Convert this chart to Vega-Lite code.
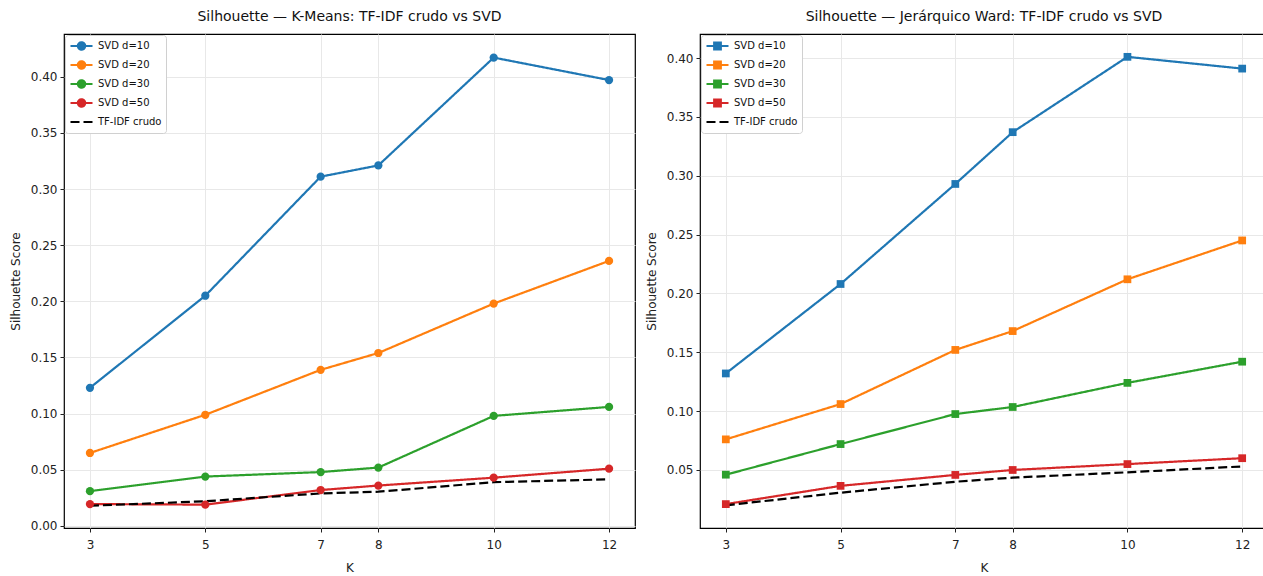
{
  "$schema": "https://vega.github.io/schema/vega-lite/v6.json",
  "background": "white",
  "padding": {"left": 8, "top": 9, "right": 0, "bottom": 0},
  "config": {
    "font": "DejaVu Sans",
    "view": {"stroke": "black", "strokeWidth": 1.2},
    "title": {"fontSize": 14, "fontWeight": "normal", "color": "#111", "offset": 10, "frame": "group", "anchor": "middle"},
    "axis": {
      "domain": false,
      "grid": true,
      "gridColor": "#e8e8e8",
      "gridWidth": 1,
      "tickColor": "#222",
      "tickSize": 4,
      "labelFontSize": 12,
      "labelColor": "#222",
      "titleFontSize": 12,
      "titleFontWeight": "normal",
      "titleColor": "#222",
      "labelPadding": 3
    },
    "legend": {
      "orient": "top-left",
      "offset": 1,
      "title": null,
      "labelFontSize": 10,
      "labelColor": "#111",
      "strokeColor": "#d0d0d0",
      "fillColor": "white",
      "cornerRadius": 3,
      "padding": 4,
      "rowPadding": 5,
      "clipHeight": 14,
      "symbolSize": 484,
      "symbolStrokeWidth": 2.2,
      "labelOffset": 4
    }
  },
  "data": {
    "values": [
      {"metodo": "kmeans", "serie": "SVD d=10", "K": 3, "score": 0.123},
      {"metodo": "kmeans", "serie": "SVD d=10", "K": 5, "score": 0.205},
      {"metodo": "kmeans", "serie": "SVD d=10", "K": 7, "score": 0.311},
      {"metodo": "kmeans", "serie": "SVD d=10", "K": 8, "score": 0.321},
      {"metodo": "kmeans", "serie": "SVD d=10", "K": 10, "score": 0.417},
      {"metodo": "kmeans", "serie": "SVD d=10", "K": 12, "score": 0.397},
      {"metodo": "kmeans", "serie": "SVD d=20", "K": 3, "score": 0.065},
      {"metodo": "kmeans", "serie": "SVD d=20", "K": 5, "score": 0.099},
      {"metodo": "kmeans", "serie": "SVD d=20", "K": 7, "score": 0.139},
      {"metodo": "kmeans", "serie": "SVD d=20", "K": 8, "score": 0.154},
      {"metodo": "kmeans", "serie": "SVD d=20", "K": 10, "score": 0.198},
      {"metodo": "kmeans", "serie": "SVD d=20", "K": 12, "score": 0.236},
      {"metodo": "kmeans", "serie": "SVD d=30", "K": 3, "score": 0.031},
      {"metodo": "kmeans", "serie": "SVD d=30", "K": 5, "score": 0.044},
      {"metodo": "kmeans", "serie": "SVD d=30", "K": 7, "score": 0.048},
      {"metodo": "kmeans", "serie": "SVD d=30", "K": 8, "score": 0.052},
      {"metodo": "kmeans", "serie": "SVD d=30", "K": 10, "score": 0.098},
      {"metodo": "kmeans", "serie": "SVD d=30", "K": 12, "score": 0.106},
      {"metodo": "kmeans", "serie": "SVD d=50", "K": 3, "score": 0.0195},
      {"metodo": "kmeans", "serie": "SVD d=50", "K": 5, "score": 0.019},
      {"metodo": "kmeans", "serie": "SVD d=50", "K": 7, "score": 0.032},
      {"metodo": "kmeans", "serie": "SVD d=50", "K": 8, "score": 0.036},
      {"metodo": "kmeans", "serie": "SVD d=50", "K": 10, "score": 0.043},
      {"metodo": "kmeans", "serie": "SVD d=50", "K": 12, "score": 0.051},
      {"metodo": "kmeans", "serie": "TF-IDF crudo", "K": 3, "score": 0.018},
      {"metodo": "kmeans", "serie": "TF-IDF crudo", "K": 5, "score": 0.022},
      {"metodo": "kmeans", "serie": "TF-IDF crudo", "K": 7, "score": 0.029},
      {"metodo": "kmeans", "serie": "TF-IDF crudo", "K": 8, "score": 0.0305},
      {"metodo": "kmeans", "serie": "TF-IDF crudo", "K": 10, "score": 0.039},
      {"metodo": "kmeans", "serie": "TF-IDF crudo", "K": 12, "score": 0.0415},
      {"metodo": "ward", "serie": "SVD d=10", "K": 3, "score": 0.132},
      {"metodo": "ward", "serie": "SVD d=10", "K": 5, "score": 0.208},
      {"metodo": "ward", "serie": "SVD d=10", "K": 7, "score": 0.293},
      {"metodo": "ward", "serie": "SVD d=10", "K": 8, "score": 0.337},
      {"metodo": "ward", "serie": "SVD d=10", "K": 10, "score": 0.401},
      {"metodo": "ward", "serie": "SVD d=10", "K": 12, "score": 0.391},
      {"metodo": "ward", "serie": "SVD d=20", "K": 3, "score": 0.076},
      {"metodo": "ward", "serie": "SVD d=20", "K": 5, "score": 0.106},
      {"metodo": "ward", "serie": "SVD d=20", "K": 7, "score": 0.152},
      {"metodo": "ward", "serie": "SVD d=20", "K": 8, "score": 0.168},
      {"metodo": "ward", "serie": "SVD d=20", "K": 10, "score": 0.212},
      {"metodo": "ward", "serie": "SVD d=20", "K": 12, "score": 0.245},
      {"metodo": "ward", "serie": "SVD d=30", "K": 3, "score": 0.046},
      {"metodo": "ward", "serie": "SVD d=30", "K": 5, "score": 0.072},
      {"metodo": "ward", "serie": "SVD d=30", "K": 7, "score": 0.0975},
      {"metodo": "ward", "serie": "SVD d=30", "K": 8, "score": 0.1035},
      {"metodo": "ward", "serie": "SVD d=30", "K": 10, "score": 0.124},
      {"metodo": "ward", "serie": "SVD d=30", "K": 12, "score": 0.142},
      {"metodo": "ward", "serie": "SVD d=50", "K": 3, "score": 0.021},
      {"metodo": "ward", "serie": "SVD d=50", "K": 5, "score": 0.0365},
      {"metodo": "ward", "serie": "SVD d=50", "K": 7, "score": 0.0458},
      {"metodo": "ward", "serie": "SVD d=50", "K": 8, "score": 0.050},
      {"metodo": "ward", "serie": "SVD d=50", "K": 10, "score": 0.055},
      {"metodo": "ward", "serie": "SVD d=50", "K": 12, "score": 0.060},
      {"metodo": "ward", "serie": "TF-IDF crudo", "K": 3, "score": 0.020},
      {"metodo": "ward", "serie": "TF-IDF crudo", "K": 5, "score": 0.0307},
      {"metodo": "ward", "serie": "TF-IDF crudo", "K": 7, "score": 0.040},
      {"metodo": "ward", "serie": "TF-IDF crudo", "K": 8, "score": 0.0435},
      {"metodo": "ward", "serie": "TF-IDF crudo", "K": 10, "score": 0.048},
      {"metodo": "ward", "serie": "TF-IDF crudo", "K": 12, "score": 0.053}
    ]
  },
  "spacing": 8,
  "resolve": {"scale": {"color": "independent", "strokeDash": "independent", "strokeWidth": "independent", "y": "independent"}, "legend": {"color": "independent", "strokeDash": "independent"}},
  "hconcat": [
    {
      "width": 571,
      "height": 494,
      "title": "Silhouette — K-Means: TF-IDF crudo vs SVD",
      "transform": [{"filter": "datum.metodo === 'kmeans'"}],
      "encoding": {
        "x": {"field": "K", "type": "quantitative", "title": "K", "scale": {"domain": [2.55, 12.45], "nice": false, "zero": false}, "axis": {"values": [3, 5, 7, 8, 10, 12], "labelPadding": 7, "titlePadding": 12}},
        "y": {"field": "score", "type": "quantitative", "title": "Silhouette Score", "scale": {"domain": [-0.0018, 0.438], "nice": false, "zero": false}, "axis": {"values": [0, 0.05, 0.1, 0.15, 0.2, 0.25, 0.3, 0.35, 0.4], "format": ".2f", "titlePadding": 8}}
      },
      "layer": [
        {
          "mark": {"type": "line"},
          "encoding": {
            "color": {"field": "serie", "type": "nominal", "scale": {"domain": ["SVD d=10", "SVD d=20", "SVD d=30", "SVD d=50", "TF-IDF crudo"], "range": ["#1f77b4", "#ff7f0e", "#2ca02c", "#d62728", "#000000"]},
              "legend": {"encode": {"symbols": {"update": {
                "shape": {"signal": "datum.value === 'TF-IDF crudo' ? 'M-1,0H1' : 'M-1,0H1M-0.33,0A0.33,0.33,0,1,0,0.33,0A0.33,0.33,0,1,0,-0.33,0Z'"},
                "fill": {"signal": "datum.value === 'SVD d=10' ? '#1f77b4' : datum.value === 'SVD d=20' ? '#ff7f0e' : datum.value === 'SVD d=30' ? '#2ca02c' : datum.value === 'SVD d=50' ? '#d62728' : 'transparent'"}
              }}}}},
            "strokeDash": {"field": "serie", "type": "nominal", "scale": {"domain": ["SVD d=10", "SVD d=20", "SVD d=30", "SVD d=50", "TF-IDF crudo"], "range": [[1, 0], [1, 0], [1, 0], [1, 0], [9, 4]]}},
            "strokeWidth": {"field": "serie", "type": "nominal", "legend": null, "scale": {"domain": ["SVD d=10", "SVD d=20", "SVD d=30", "SVD d=50", "TF-IDF crudo"], "range": [2.2, 2.2, 2.2, 2.2, 2.7]}}
          }
        },
        {
          "transform": [{"filter": "datum.serie !== 'TF-IDF crudo'"}],
          "mark": {"type": "point", "filled": true, "shape": "circle", "size": 68, "opacity": 1},
          "encoding": {
            "color": {"field": "serie", "type": "nominal"}
          }
        }
      ]
    },
    {
      "width": 568,
      "height": 494,
      "title": "Silhouette — Jerárquico Ward: TF-IDF crudo vs SVD",
      "transform": [{"filter": "datum.metodo === 'ward'"}],
      "encoding": {
        "x": {"field": "K", "type": "quantitative", "title": "K", "scale": {"domain": [2.55, 12.45], "nice": false, "zero": false}, "axis": {"values": [3, 5, 7, 8, 10, 12], "labelPadding": 7, "titlePadding": 12}},
        "y": {"field": "score", "type": "quantitative", "title": "Silhouette Score", "scale": {"domain": [0.0007, 0.4204], "nice": false, "zero": false}, "axis": {"values": [0.05, 0.1, 0.15, 0.2, 0.25, 0.3, 0.35, 0.4], "format": ".2f", "titlePadding": 8}}
      },
      "layer": [
        {
          "mark": {"type": "line"},
          "encoding": {
            "color": {"field": "serie", "type": "nominal", "scale": {"domain": ["SVD d=10", "SVD d=20", "SVD d=30", "SVD d=50", "TF-IDF crudo"], "range": ["#1f77b4", "#ff7f0e", "#2ca02c", "#d62728", "#000000"]},
              "legend": {"encode": {"symbols": {"update": {
                "shape": {"signal": "datum.value === 'TF-IDF crudo' ? 'M-1,0H1' : 'M-1,0H1M-0.3,-0.3H0.3V0.3H-0.3Z'"},
                "fill": {"signal": "datum.value === 'SVD d=10' ? '#1f77b4' : datum.value === 'SVD d=20' ? '#ff7f0e' : datum.value === 'SVD d=30' ? '#2ca02c' : datum.value === 'SVD d=50' ? '#d62728' : 'transparent'"}
              }}}}},
            "strokeDash": {"field": "serie", "type": "nominal", "scale": {"domain": ["SVD d=10", "SVD d=20", "SVD d=30", "SVD d=50", "TF-IDF crudo"], "range": [[1, 0], [1, 0], [1, 0], [1, 0], [9, 4]]}},
            "strokeWidth": {"field": "serie", "type": "nominal", "legend": null, "scale": {"domain": ["SVD d=10", "SVD d=20", "SVD d=30", "SVD d=50", "TF-IDF crudo"], "range": [2.2, 2.2, 2.2, 2.2, 2.7]}}
          }
        },
        {
          "transform": [{"filter": "datum.serie !== 'TF-IDF crudo'"}],
          "mark": {"type": "point", "filled": true, "shape": "square", "size": 60, "opacity": 1},
          "encoding": {
            "color": {"field": "serie", "type": "nominal"}
          }
        }
      ]
    }
  ]
}
